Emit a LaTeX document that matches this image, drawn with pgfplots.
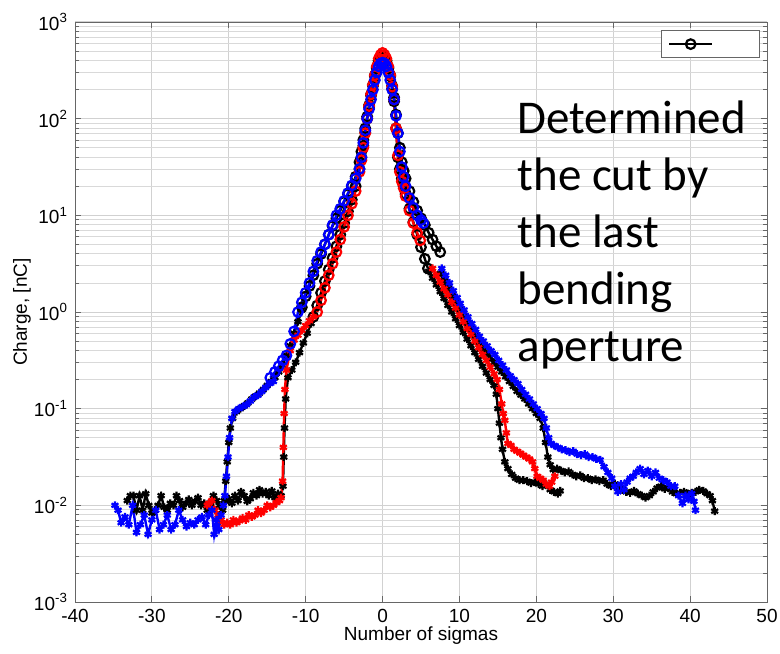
\documentclass[border=0pt]{standalone}
\usepackage{pgfplots}
\pgfplotsset{compat=1.18}
\usepackage{fontspec}
\setmainfont{Liberation Sans}
\newfontfamily\calibri{Carlito}
\pgfplotsset{
 circ/.style={#1, line width=1.2pt, mark=o, mark size=2.4pt, mark options={solid, line width=1.1pt}},
 crs/.style={#1, line width=1.2pt, mark=asterisk, mark size=2pt, mark options={solid, line width=1.1pt}},
}
\begin{document}
\begin{tikzpicture}
\begin{axis}[
 width=346pt, height=290pt, scale only axis,
 xmin=-40, xmax=50, ymin=1e-3, ymax=1e3, ymode=log,
 xtick={-40,-30,-20,-10,0,10,20,30,40,50},
 xticklabels={-40,-30,-20,-10,0,10,20,30,40,50},
 ytick={1e-3,1e-2,1e-1,1,1e1,1e2,1e3},
 yticklabels={10\textsuperscript{-3},10\textsuperscript{-2},10\textsuperscript{-1},10\textsuperscript{0},10\textsuperscript{1},10\textsuperscript{2},10\textsuperscript{3}},
 grid=both,
 major grid style={black!18, line width=0.5pt},
 minor grid style={black!15, line width=0.4pt},
 axis line style={black!60},
 every tick/.style={black!60},
 major tick length=3pt, minor tick length=2pt,
 tick label style={font=\fontsize{9.5}{11}\selectfont, text=black},
 label style={font=\fontsize{9.5}{11}\selectfont},
 xlabel={Number of sigmas}, ylabel={Charge, [nC]},
 xlabel style={at={(rel axis cs:0.5,-0.0586)}, anchor=center},
 ylabel style={at={(rel axis cs:-0.0766,0.5)}, anchor=center},
 legend style={at={(rel axis cs:0.9899,0.986)}, anchor=north east, draw=black!60, line width=0.5pt, inner xsep=3pt, inner ysep=4pt},
 legend cell align=left,
]
\addlegendimage{circ=black, legend image code/.code={\draw[mark repeat=2,mark phase=2] plot coordinates {(0cm,0cm) (0.38cm,0cm) (0.76cm,0cm)};}}
\addlegendentry{\hspace*{16pt}}

% ---------- black 2 (blue-like) crosses ----------
\addplot[crs=black, forget plot] table {
-33.2 0.0112
-32.8 0.0126
-32.4 0.0126
-32.0 0.00891
-31.6 0.0126
-31.2 0.00891
-30.8 0.0132
-30.4 0.0100
-30.0 0.00832
-29.6 0.00891
-29.2 0.0100
-28.8 0.0126
-28.4 0.00955
-28.0 0.00891
-27.6 0.0105
-27.2 0.0100
-26.8 0.0126
-26.4 0.0112
-26.0 0.00955
-25.6 0.0105
-25.2 0.0115
-24.8 0.0100
-24.4 0.0110
-24.0 0.0120
-23.6 0.0100
-23.2 0.0105
-22.8 0.00891
-22.4 0.0105
-22.0 0.0126
-21.6 0.0112
-21.2 0.0100
-20.8 0.00891
-20.6 0.0112
-20.4 0.0178
-20.2 0.0282
-20.0 0.0447
-19.8 0.0631
-19.5 0.0794
-19.0 0.0933
-18.5 0.100
-18.0 0.107
-17.5 0.115
-17.0 0.126
-16.5 0.135
-16.0 0.145
-15.5 0.158
-15.0 0.174
-14.5 0.191
-14.0 0.209
-13.5 0.240
-13.0 0.282
-12.5 0.355
-12.0 0.447
-11.5 0.603
-11.0 0.794
-10.5 1.05
};
\addplot[crs=black, forget plot] table {
7.5 2.51
8.0 2.09
8.5 1.78
9.0 1.48
9.5 1.23
10.0 1.05
10.5 0.891
11.0 0.759
11.5 0.661
12.0 0.562
12.5 0.490
13.0 0.427
13.5 0.380
14.0 0.339
14.5 0.302
15.0 0.269
15.5 0.240
16.0 0.214
16.5 0.191
17.0 0.170
17.5 0.151
18.0 0.138
18.5 0.126
19.0 0.112
19.5 0.100
20.0 0.0891
20.5 0.0794
20.9 0.0631
21.2 0.0447
21.5 0.0316
21.8 0.0263
22.2 0.0234
22.7 0.0240
23.2 0.0229
23.7 0.0219
24.2 0.0224
24.7 0.0209
25.2 0.0200
25.7 0.0204
26.2 0.0191
26.7 0.0191
27.2 0.0182
27.7 0.0186
28.2 0.0178
28.7 0.0182
29.2 0.0166
29.7 0.0158
30.2 0.0166
30.7 0.0151
31.2 0.0145
31.7 0.0138
32.2 0.0135
32.7 0.0141
33.2 0.0132
33.7 0.0126
34.2 0.0120
34.7 0.0126
35.2 0.0138
35.7 0.0151
36.2 0.0158
36.7 0.0148
37.2 0.0151
37.7 0.0138
38.2 0.0132
38.7 0.0135
39.2 0.0138
39.7 0.0132
40.2 0.0135
40.7 0.0138
41.2 0.0145
41.7 0.0141
42.2 0.0132
42.6 0.0126
42.9 0.0112
43.2 0.00871
};
% ---------- black 1 (red-like) crosses ----------
\addplot[crs=black, forget plot] table {
-20.4 0.0110
-20.0 0.0117
-19.6 0.0105
-19.2 0.0126
-18.8 0.0112
-18.4 0.0138
-18.0 0.0126
-17.6 0.0110
-17.2 0.0117
-16.8 0.0135
-16.4 0.0126
-16.0 0.0145
-15.6 0.0132
-15.2 0.0138
-14.8 0.0126
-14.4 0.0141
-14.0 0.0120
-13.6 0.0132
-13.2 0.0126
-12.95 0.0158
-12.85 0.0316
-12.75 0.0631
-12.6 0.126
-12.3 0.209
-11.8 0.251
-11.3 0.302
-10.8 0.380
-10.3 0.479
-9.8 0.603
-9.3 0.759
};
\addplot[crs=black, forget plot] table {
6.0 2.63
6.5 2.24
7.0 1.91
7.5 1.62
8.0 1.38
8.5 1.17
9.0 1.00
9.5 0.851
10.0 0.724
10.5 0.617
11.0 0.525
11.5 0.447
12.0 0.380
12.5 0.324
13.0 0.275
13.5 0.234
14.0 0.200
14.5 0.174
14.8 0.141
15.0 0.100
15.2 0.0708
15.4 0.0501
15.6 0.0380
15.9 0.0282
16.3 0.0240
16.8 0.0209
17.3 0.0191
17.8 0.0182
18.3 0.0182
18.8 0.0178
19.3 0.0170
19.8 0.0174
20.3 0.0166
20.8 0.0158
21.3 0.0162
21.8 0.0145
22.3 0.0138
22.8 0.0132
23.1 0.0141
};
% ---------- black circles ----------
\addplot[circ=black, forget plot] table {
-9.0 0.891
-8.5 1.17
-8.0 1.58
-7.5 2.09
-7.0 2.75
-6.5 3.63
-6.0 4.79
-5.5 6.31
-5.0 8.32
-4.5 11.0
-4.0 14.5
-3.5 20.0
-3.0 30.2
-2.75 39.8
-2.5 52.5
-2.25 72.4
-2.0 100
-1.75 132
-1.5 174
-1.25 219
-1.0 275
-0.75 331
-0.5 398
-0.25 437
0.0 447
0.25 437
0.5 398
0.75 331
1.0 275
1.25 204
1.5 151
1.75 79.4
2.0 39.8
2.25 30.2
2.5 24.0
2.75 20.0
3.0 16.6
3.5 11.7
4.0 8.51
4.5 6.31
5.0 4.68
5.5 3.55
5.9 2.82
};
\addplot[circ=black, forget plot] table {
-10.5 1.12
-10.0 1.45
-9.5 1.86
-9.0 2.40
-8.5 3.16
-8.0 3.98
-7.5 5.01
-7.0 6.31
-6.5 7.76
-6.0 9.33
-5.5 11.2
-5.0 13.8
-4.5 16.6
-4.0 20.0
-3.5 25.1
-3.0 35.5
-2.75 45.7
-2.5 60.3
-2.25 79.4
-2.0 105
-1.75 138
-1.5 178
-1.25 224
-1.0 282
-0.75 339
-0.5 398
-0.25 437
0.0 447
0.25 437
0.5 398
0.75 339
1.0 282
1.25 219
1.5 166
1.75 110
2.0 70.8
2.25 50.1
2.5 35.5
2.75 28.8
3.0 24.0
3.5 17.8
4.0 13.8
4.5 11.2
5.0 9.33
5.5 7.94
6.0 6.61
6.5 5.62
7.0 4.79
7.5 4.17
};
% ---------- red ----------
\addplot[crs=red, forget plot] table {
-22.8 0.0100
-22.6 0.0105
-22.2 0.0112
-21.8 0.00891
-21.4 0.00794
-21.0 0.00708
-20.6 0.00631
-20.2 0.00661
-19.8 0.00631
-19.4 0.00708
-19.0 0.00661
-18.6 0.00692
-18.2 0.00741
-17.8 0.00708
-17.4 0.00794
-17.0 0.00759
-16.6 0.00794
-16.2 0.00891
-15.8 0.00832
-15.4 0.00891
-15.0 0.0100
-14.6 0.00955
-14.2 0.0100
-13.8 0.0107
-13.4 0.0112
-13.2 0.0120
-13.0 0.0178
-12.9 0.0398
-12.8 0.0891
-12.7 0.158
-12.5 0.251
-12.0 0.398
-11.5 0.513
-11.0 0.575
-10.5 0.646
-10.0 0.724
-9.5 0.813
-9.0 0.891
};
\addplot[crs=red, forget plot] table {
6.5 2.82
7.0 2.40
7.5 2.04
8.0 1.74
8.5 1.51
9.0 1.26
9.5 1.10
10.0 0.933
10.5 0.794
11.0 0.676
11.5 0.589
12.0 0.501
12.5 0.427
13.0 0.363
13.5 0.316
14.0 0.269
14.5 0.229
14.9 0.200
15.2 0.158
15.5 0.112
15.7 0.0891
15.9 0.0759
16.1 0.0562
16.3 0.0437
16.7 0.0417
17.1 0.0380
17.5 0.0363
17.9 0.0347
18.3 0.0331
18.7 0.0316
19.1 0.0302
19.5 0.0282
19.8 0.0240
20.1 0.0200
20.5 0.0191
20.9 0.0182
21.3 0.0166
21.7 0.0158
22.0 0.0174
22.4 0.0200
};
\addplot[circ=red, forget plot] table {
-8.5 1.00
-8.0 1.32
-7.5 1.78
-7.0 2.40
-6.5 3.16
-6.0 4.17
-5.5 5.62
-5.0 7.59
-4.5 10.0
-4.0 13.2
-3.5 17.8
-3.0 28.2
-2.75 37.2
-2.5 50.1
-2.25 70.8
-2.0 100
-1.75 135
-1.5 178
-1.25 224
-1.0 282
-0.75 347
-0.5 417
-0.25 457
0.0 479
0.25 457
0.5 417
0.75 347
1.0 282
1.25 214
1.5 158
1.75 79.4
2.0 41.7
2.25 28.2
2.5 22.4
2.75 19.1
3.0 15.8
3.5 11.2
4.0 8.32
4.5 6.61
4.9 5.50
};
% ---------- blue ----------
\addplot[crs=blue, forget plot] table {
-34.8 0.0100
-34.4 0.00891
-34.0 0.00661
-33.5 0.00759
-33.0 0.00631
-32.5 0.0100
-32.0 0.00525
-31.5 0.00631
-31.0 0.00794
-30.5 0.00501
-30.0 0.00708
-29.5 0.00891
-29.0 0.00562
-28.5 0.00631
-28.0 0.00794
-27.5 0.00562
-27.0 0.00631
-26.5 0.00891
-26.0 0.00708
-25.5 0.00603
-25.0 0.00661
-24.5 0.00631
-24.0 0.00708
-23.5 0.00759
-23.0 0.00631
-22.6 0.00794
-22.2 0.00891
-21.9 0.00501
-21.6 0.00708
-21.3 0.00562
-21.0 0.00794
-20.7 0.0100
-20.5 0.0126
-20.3 0.0200
-20.1 0.0316
-19.9 0.0501
-19.6 0.0794
-19.2 0.0933
-18.7 0.100
-18.2 0.105
-17.7 0.110
-17.2 0.120
-16.7 0.132
-16.2 0.138
-15.7 0.151
-15.2 0.166
-14.7 0.182
-14.2 0.191
};
\addplot[crs=blue, forget plot] table {
7.7 2.82
8.2 2.40
8.7 2.00
9.2 1.66
9.7 1.41
10.1 1.23
10.6 1.05
11.1 0.891
11.6 0.759
12.1 0.661
12.6 0.562
13.1 0.501
13.6 0.447
14.1 0.398
14.6 0.363
15.1 0.316
15.6 0.282
16.1 0.251
16.6 0.219
17.1 0.200
17.6 0.182
18.1 0.158
18.6 0.141
19.1 0.126
19.6 0.112
20.1 0.100
20.6 0.0891
21.0 0.0794
21.3 0.0631
21.6 0.0501
21.9 0.0437
22.3 0.0417
22.8 0.0398
23.3 0.0380
23.8 0.0372
24.3 0.0355
24.8 0.0363
25.3 0.0339
25.8 0.0331
26.3 0.0339
26.8 0.0316
27.3 0.0316
27.8 0.0302
28.3 0.0295
28.8 0.0251
29.3 0.0219
29.8 0.0191
30.2 0.0158
30.6 0.0138
31.0 0.0166
31.4 0.0145
31.8 0.0174
32.2 0.0191
32.6 0.0200
33.0 0.0219
33.5 0.0240
34.0 0.0209
34.5 0.0229
35.0 0.0200
35.5 0.0219
36.0 0.0191
36.5 0.0182
37.0 0.0174
37.5 0.0158
38.0 0.0158
38.5 0.0126
39.0 0.0105
39.4 0.0126
39.8 0.0115
40.2 0.0132
40.5 0.0110
40.7 0.00891
};
\addplot[circ=blue, forget plot] table {
-14.6 0.209
-14.0 0.240
-13.5 0.275
-13.0 0.316
-12.5 0.355
-12.0 0.468
-11.5 0.631
-11.0 1.00
-10.5 1.26
-10.0 1.58
-9.5 2.00
-9.0 2.63
-8.5 3.39
-8.0 4.17
-7.5 5.01
-7.0 6.31
-6.5 7.94
-6.0 10.0
-5.5 11.7
-5.0 14.1
-4.5 17.0
-4.0 20.4
-3.5 24.0
-3.0 30.2
-2.75 39.8
-2.5 56.2
-2.25 75.9
-2.0 100
-1.75 126
-1.5 158
-1.25 200
-1.0 251
-0.75 302
-0.5 347
-0.25 372
0.0 380
0.25 372
0.5 347
0.75 302
1.0 251
1.25 200
1.5 158
1.75 107
2.0 70.8
2.25 45.7
2.5 31.6
2.75 25.1
3.0 20.0
3.5 15.1
4.0 12.0
4.5 10.0
5.0 8.91
5.3 8.32
};
\node[anchor=north west, inner sep=0pt, align=left, font=\calibri\fontsize{23.5}{28.5}\selectfont] at (rel axis cs:0.639,0.8655) {Determined\\the cut by\\the last\\bending\\aperture};
\end{axis}
\pgfresetboundingbox
\path ([xshift=-37.5pt,yshift=-25.5pt]current axis.south west) rectangle ([xshift=6.5pt,yshift=11pt]current axis.north east);
\end{tikzpicture}
\end{document}
